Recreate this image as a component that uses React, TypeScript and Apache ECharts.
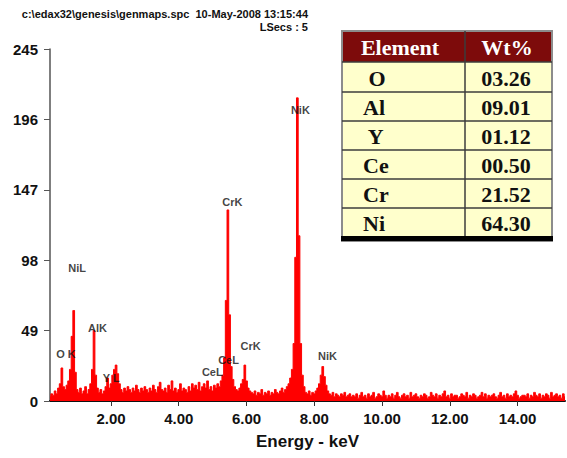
import React, { useEffect, useRef } from "react";
import * as echarts from "echarts";

// Spectrum channels: energy of first channel and channel width (keV)
const channelStart = 0.2;
const channelWidth = 0.05;
// Counts per channel (one line = 1 keV)
const counts: number[] = [
  3, 5, 4, 7, 5, 9, 12, 23, 10, 8, 11, 14, 22, 45, 63, 20, 8, 6, 9, 5,
  7, 10, 5, 8, 12, 22, 49, 18, 9, 6, 8, 5, 7, 10, 16, 9, 12, 18, 22, 25,
  19, 12, 8, 6, 9, 7, 10, 8, 6, 9, 7, 11, 8, 6, 9, 7, 10, 8, 6, 9,
  7, 11, 8, 6, 10, 13, 8, 7, 9, 6, 11, 8, 14, 7, 9, 6, 8, 12, 7, 9,
  8, 6, 10, 7, 12, 9, 11, 8, 13, 7, 10, 12, 9, 14, 8, 10, 7, 11, 9, 12,
  10, 14, 18, 30, 70, 133, 60, 24, 15, 10, 8, 7, 9, 12, 15, 25, 14, 9, 7, 6,
  5, 7, 4, 6, 5, 8, 4, 6, 5, 7, 4, 6, 5, 8, 6, 5, 7, 9, 6, 8,
  10, 12, 16, 22, 40, 100, 211, 115, 40, 18, 10, 6, 5, 7, 4, 6, 5, 7, 9, 12,
  18, 24, 17, 11, 7, 5, 4, 6, 3, 5, 4, 3, 5, 4, 6, 3, 4, 5, 3, 4,
  3, 5, 2, 4, 6, 3, 4, 2, 5, 3, 4, 6, 2, 3, 5, 4, 3, 7, 4, 2,
  4, 3, 5, 2, 4, 6, 3, 2, 4, 5, 3, 4, 2, 6, 3, 4, 5, 3, 2, 4,
  3, 5, 4, 2, 3, 6, 4, 3, 5, 2, 4, 3, 5, 7, 3, 4, 2, 5, 3, 4,
  4, 2, 3, 5, 4, 3, 6, 2, 4, 3, 5, 4, 2, 3, 4, 6, 3, 5, 2, 4,
  3, 4, 5, 3, 2, 4, 6, 3, 4, 2, 5, 3, 4, 3, 5, 7, 4, 2, 3, 4,
  4, 3, 5, 2, 4, 3, 6, 4, 3, 5, 2, 4, 3, 5, 4, 2, 6, 3, 4, 5,
  3, 4, 2, 5, 3,
];

// Peak annotations
const peakNames = ["O K", "NiL", "AlK", "Y L", "CeL", "CeL", "CrK", "CrK", "NiK", "NiK"];
const peakEnergy = [0.67, 1.0, 1.6, 2.01, 4.99, 5.47, 5.58, 6.12, 7.59, 8.39];
const peakLabelCount = [32.7, 92.6, 50.8, 16, 20, 28.5, 138.5, 38, 202.5, 31];

// Axis ticks
const xTicks = [2, 4, 6, 8, 10, 12, 14];
const yMax = 245;
const yStep = 49;

// Header texts
const headerLine1 = "c:\\edax32\\genesis\\genmaps.spc  10-May-2008 13:15:44";
const headerLine2 = "LSecs : 5";

// Composition table
const tableHeader = ["Element", "Wt%"];
const elements = [" O", "Al", " Y", "Ce", "Cr", "Ni"];
const wtPercent = ["03.26", "09.01", "01.12", "00.50", "21.52", "64.30"];

export default function App() {
  const ref = useRef<HTMLDivElement>(null);

  useEffect(() => {
    if (!ref.current) return;
    const chart = echarts.init(ref.current, undefined, { renderer: "svg" });

    const spectrum = counts.map((c, i) => [
      +(channelStart + i * channelWidth).toFixed(2),
      c,
    ]);
    const labels = peakNames.map((n, i) => ({
      name: n,
      value: [peakEnergy[i], peakLabelCount[i]],
    }));

    const sans = '"Liberation Sans", Arial, sans-serif';
    const serif = '"Liberation Serif", "Times New Roman", serif';

    // table geometry
    const tx = 342, ty = 31, tw = 210;
    const headH = 31;
    const rowYs = [62, 92, 121, 150, 179, 208, 237];
    const colX = 465;

    const tableEls: any[] = [];
    tableEls.push({
      type: "rect",
      shape: { x: tx, y: ty, width: tw, height: 210 },
      style: { fill: "#ffffcc", stroke: "#8c8c8c", lineWidth: 2 },
    });
    tableEls.push({
      type: "rect",
      shape: { x: tx + 1, y: ty + 1, width: tw - 2, height: headH - 1 },
      style: { fill: "#7d0b0b" },
    });
    rowYs.slice(0, 6).forEach((y) => {
      tableEls.push({
        type: "line",
        shape: { x1: tx, y1: y, x2: tx + tw, y2: y },
        style: { stroke: "#3c3c3c", lineWidth: 1.5 },
      });
    });
    tableEls.push({
      type: "line",
      shape: { x1: colX, y1: ty, x2: colX, y2: 237 },
      style: { stroke: "#3c3c3c", lineWidth: 1.5 },
    });
    tableEls.push({
      type: "rect",
      shape: { x: tx - 1, y: 236, width: tw + 2, height: 5 },
      style: { fill: "#000000" },
    });
    tableEls.push({
      type: "text",
      x: 400,
      y: 47,
      style: {
        text: tableHeader[0],
        fill: "#ffffff",
        font: `bold 22px ${serif}`,
        textAlign: "center",
        textVerticalAlign: "middle",
      },
    });
    tableEls.push({
      type: "text",
      x: 507,
      y: 47,
      style: {
        text: tableHeader[1],
        fill: "#ffffff",
        font: `bold 22px ${serif}`,
        textAlign: "center",
        textVerticalAlign: "middle",
      },
    });
    elements.forEach((el, i) => {
      const cy = (rowYs[i] + rowYs[i + 1]) / 2 + 1;
      tableEls.push({
        type: "text",
        x: 363,
        y: cy,
        style: {
          text: el,
          fill: "#111111",
          font: `bold 22px ${serif}`,
          textAlign: "left",
          textVerticalAlign: "middle",
        },
      });
      tableEls.push({
        type: "text",
        x: 506,
        y: cy,
        style: {
          text: wtPercent[i],
          fill: "#111111",
          font: `bold 22px ${serif}`,
          textAlign: "center",
          textVerticalAlign: "middle",
        },
      });
    });

    chart.setOption({
      animation: false,
      backgroundColor: "#ffffff",
      grid: {
        left: 50,
        right: 2,
        top: 49,
        bottom: 57,
        containLabel: false,
        outerBoundsMode: "none",
      },
      xAxis: {
        type: "value",
        min: 0.2,
        max: 15.4,
        name: "Energy - keV",
        nameLocation: "middle",
        nameGap: 32,
        nameTextStyle: { fontFamily: sans, fontWeight: "bold", fontSize: 17, color: "#111" },
        axisLine: { show: true, onZero: false, lineStyle: { color: "#111", width: 2 } },
        axisTick: {
          show: true,
          length: 5,
          customValues: xTicks,
          lineStyle: { color: "#333", width: 1 },
        },
        axisLabel: {
          customValues: xTicks,
          formatter: (v: number) => v.toFixed(2),
          fontFamily: sans,
          fontWeight: "bold",
          fontSize: 15,
          color: "#111",
          margin: 10,
        },
        splitLine: { show: false },
      },
      yAxis: {
        type: "value",
        min: 0,
        max: yMax,
        interval: yStep,
        axisLine: { show: true, lineStyle: { color: "#555", width: 1.5 } },
        axisTick: { show: true, length: 6, lineStyle: { color: "#555", width: 1 } },
        axisLabel: {
          fontFamily: sans,
          fontWeight: "bold",
          fontSize: 15,
          color: "#111",
          margin: 12,
        },
        splitLine: { show: false },
      },
      series: [
        {
          type: "line",
          data: spectrum,
          step: "middle",
          symbol: "none",
          lineStyle: { color: "#ff0000", width: 1 },
          areaStyle: { color: "#ff0000", opacity: 1 },
          itemStyle: { color: "#ff0000" },
          z: 2,
        },
        {
          type: "scatter",
          data: labels,
          symbolSize: 1,
          itemStyle: { color: "rgba(0,0,0,0)" },
          label: {
            show: true,
            position: "inside",
            formatter: "{b}",
            fontFamily: sans,
            fontWeight: "bold",
            fontSize: 11,
            color: "#111",
          },
          z: 5,
        },
      ],
      graphic: [
        {
          type: "text",
          x: 308,
          y: 14,
          style: {
            text: headerLine1,
            fill: "#111",
            font: `bold 11px ${sans}`,
            textAlign: "right",
            textVerticalAlign: "middle",
          },
          z: 10,
        },
        {
          type: "text",
          x: 308,
          y: 27,
          style: {
            text: headerLine2,
            fill: "#111",
            font: `bold 11px ${sans}`,
            textAlign: "right",
            textVerticalAlign: "middle",
          },
          z: 10,
        },
        { type: "group", children: tableEls, z: 10 },
      ],
    });

    return () => chart.dispose();
  }, []);

  return (
    <div
      ref={ref}
      style={{ position: "fixed", left: 0, top: 0, width: 567, height: 458, background: "#fff" }}
    />
  );
}
